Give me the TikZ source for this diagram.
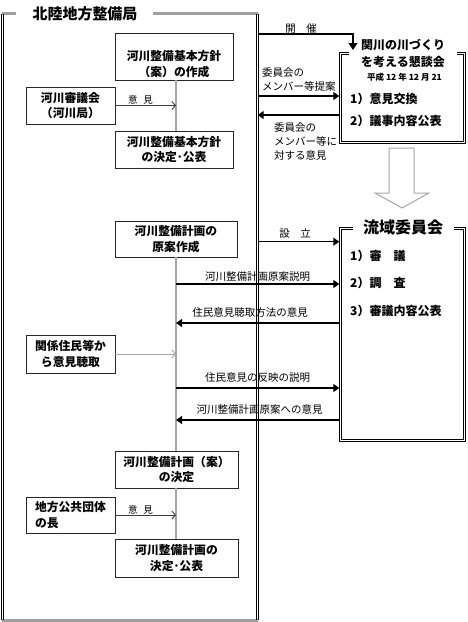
\documentclass[tikz,border=0pt]{standalone}
\usepackage{fontspec}
\setmainfont{Noto Sans CJK JP}
\usetikzlibrary{arrows.meta}

\newcommand\boxtextfont{\bfseries\fontsize{11.8}{15.6}\selectfont}
\newcommand\labeltextfont{\fontsize{10.5}{13.7}\selectfont}
\newcommand\bureaufont{\bfseries\fontsize{15}{18}\selectfont}
\newcommand\kondanfont{\bfseries\fontsize{12}{17}\selectfont}
\newcommand\datetextfont{\bfseries\fontsize{8.5}{10}\selectfont}
\newcommand\itemtextfont{\bfseries\fontsize{12}{14}\selectfont}
\newcommand\ryuikifont{\bfseries\fontsize{16}{18}\selectfont}

\tikzset{
  bureaubox/.style={draw=black!85, line width=0.9pt, inner sep=0pt, align=center, font=\boxtextfont},
  outerframe/.style={draw, line width=0.8pt, inner sep=0pt},
  innerline/.style={line width=0.8pt},
  framegray/.style={draw=gray!75, line width=2.8pt},
  flow/.style={line width=1.1pt, -{Triangle[length=6pt,width=8pt]}},
  spine/.style={draw=gray!70, line width=1.2pt},
  opinion/.style={draw=black!75, line width=0.9pt, -{Straight Barb[length=3.5pt,width=8pt]}},
  lbl/.style={inner sep=0pt, align=left, font=\labeltextfont},
  item/.style={anchor=west, inner sep=0pt, font=\itemtextfont},
}

\begin{document}
\begin{tikzpicture}[x=1pt, y=-1pt]
  \useasboundingbox (0,0) rectangle (467,622);
  % frame of the regional bureau
  \node[minimum width=255pt, minimum height=606pt, inner sep=0pt] (kyoku) at (130,317) {};
  \draw[framegray] (kyoku.north west) -- ++(14,0);
  \draw[framegray] (kyoku.north east) -- ++(-104.5,0);
  \draw[framegray] (kyoku.south west) -- (kyoku.south east);
  \draw[innerline] ([xshift=-0.9pt]kyoku.north west) -- ([xshift=-0.9pt]kyoku.south west);
  \draw[innerline] ([xshift=1.1pt]kyoku.north west) -- ([xshift=1.1pt]kyoku.south west);
  \draw[innerline] ([xshift=-1pt]kyoku.north east) -- ([xshift=-1pt]kyoku.south east);
  \draw[innerline] ([xshift=1pt]kyoku.north east) -- ([xshift=1pt]kyoku.south east);
  \node[font=\bureaufont, inner sep=0pt] (kyokutitle) at (85,14) {北陸地方整備局};

  % basic policy
  \node[bureaubox, minimum width=118pt, minimum height=47pt] (policyA) at (174,56.5) {};
  \node[font=\boxtextfont, align=center, inner sep=0pt] (policyAtext) at (174,64) {河川整備基本方針\\（案）の作成};
  \node[bureaubox, minimum width=89pt, minimum height=37pt] (council) at (70.5,105.5) {河川審議会\\（河川局）};
  \node[bureaubox, minimum width=118pt, minimum height=37pt] (policyC) at (174,149.5) {河川整備基本方針\\の決定･公表};
  \coordinate (spine) at (176,0);
  \draw[spine] (policyA.south -| spine) -- (policyC.north -| spine);
  \draw[opinion] (council.east) -- (council.east -| spine);
  \node[lbl, font=\fontsize{9.5}{11}\selectfont] (councillbl) at (140.5,100) {意\hspace{0.6em}見};

  % river plan
  \node[bureaubox, minimum width=122pt, minimum height=36pt] (draftplan) at (176,239) {河川整備計画の\\原案作成};
  \node[bureaubox, minimum width=89pt, minimum height=38pt] (hearing) at (70.5,354) {関係住民等か\\ら意見聴取};
  \node[bureaubox, minimum width=123pt, minimum height=37pt] (planE) at (176.5,469.5) {河川整備計画（案）\\の決定};
  \node[bureaubox, minimum width=89pt, minimum height=36pt, align=left] (mayor) at (70.5,515) {地方公共団体\\の長};
  \node[bureaubox, minimum width=123pt, minimum height=38pt] (planH) at (176.5,558) {河川整備計画の\\決定･公表};
  \draw[spine] (draftplan.south -| spine) -- (planE.north -| spine);
  \draw[spine] (planE.south -| spine) -- (planH.north -| spine);
  \draw[opinion, draw=gray!70] (hearing.east) -- (hearing.east -| spine);
  \draw[opinion] (mayor.east) -- (mayor.east -| spine);
  \node[lbl, font=\fontsize{9.5}{11}\selectfont] (mayorlbl) at (140.5,509.5) {意\hspace{0.6em}見};

  % round-table meeting
  \node[outerframe, minimum width=126pt, minimum height=90.4pt] (kondan) at (402.7,98) {};
  \draw[innerline] ([shift={(2.4,2.4)}]kondan.north west) rectangle ([shift={(-2.4,-2.4)}]kondan.south east);
  \node[fill=white, minimum width=108pt, inner sep=1pt, align=center, font=\kondanfont] (kondantitle) at (403,53.5) {関川の川づくり\\を考える懇談会};
  \node[font=\datetextfont, inner sep=0pt] (kondandate) at (404.5,77) {平成 12 年 12 月 21};
  \node[item] (kondan1) at (350,99) {1）意見交換};
  \node[item] (kondan2) at (350,121) {2）議事内容公表};

  % hollow arrow
  \draw[gray!70, line width=1pt] (389,148) -- (414,148) -- (414,193) -- (429,193)
    -- (402,208) -- (375,193) -- (389,193) -- cycle;

  % basin committee
  \node[outerframe, minimum width=126pt, minimum height=214.2pt] (ryuiki) at (402.7,334.1) {};
  \draw[innerline] ([shift={(2.4,2.4)}]ryuiki.north west) rectangle ([shift={(-2.4,-2.4)}]ryuiki.south east);
  \node[fill=white, minimum width=101pt, inner sep=1pt, font=\ryuikifont] (ryuikititle) at (403,227) {流域委員会};
  \node[item] (ryuiki1) at (350,256) {1）審　議};
  \node[item] (ryuiki2) at (350,283) {2）調　査};
  \node[item] (ryuiki3) at (350,311) {3）審議内容公表};

  % connectors to the right
  \coordinate (kaisaibend) at (353,34);
  \coordinate (kaisaiend) at (353,50);
  \draw[line width=1.1pt, -{Triangle[length=7pt,width=9pt]}] (kyoku.east |- kaisaibend) -- (kaisaibend) -- (kaisaiend);
  \node[lbl] (kaisailbl) at (301,29) {開　催};
  \draw[flow] (kyoku.east |- 0,96) -- (kondan.west |- 0,96);
  \node[lbl, anchor=west] (teianlbl) at (262,79.5) {委員会の\\メンバー等提案};
  \draw[flow] (kondan.west |- 0,115) -- (kyoku.east |- 0,115);
  \node[lbl, anchor=west] (ikenlbl) at (274,141.5) {委員会の\\メンバー等に\\対する意見};
  \draw[flow] (kyoku.east |- 0,241.7) -- (ryuiki.west |- 0,241.7);
  \node[lbl] (setsuritsulbl) at (295,234) {設　立};
  \draw[flow] (spine |- 0,284) -- (ryuiki.west |- 0,284);
  \node[lbl] (setsumeilbl) at (257.5,277) {河川整備計画原案説明};
  \draw[flow] (ryuiki.west |- 0,323) -- (spine |- 0,323);
  \node[lbl] (hoholbl) at (250,313) {住民意見聴取方法の意見};
  \draw[flow] (spine |- 0,388) -- (ryuiki.west |- 0,388);
  \node[lbl] (hanneilbl) at (257.5,378) {住民意見の反映の説明};
  \draw[flow] (ryuiki.west |- 0,420) -- (spine |- 0,420);
  \node[lbl] (genanlbl) at (259.5,410) {河川整備計画原案への意見};
\end{tikzpicture}
\end{document}
